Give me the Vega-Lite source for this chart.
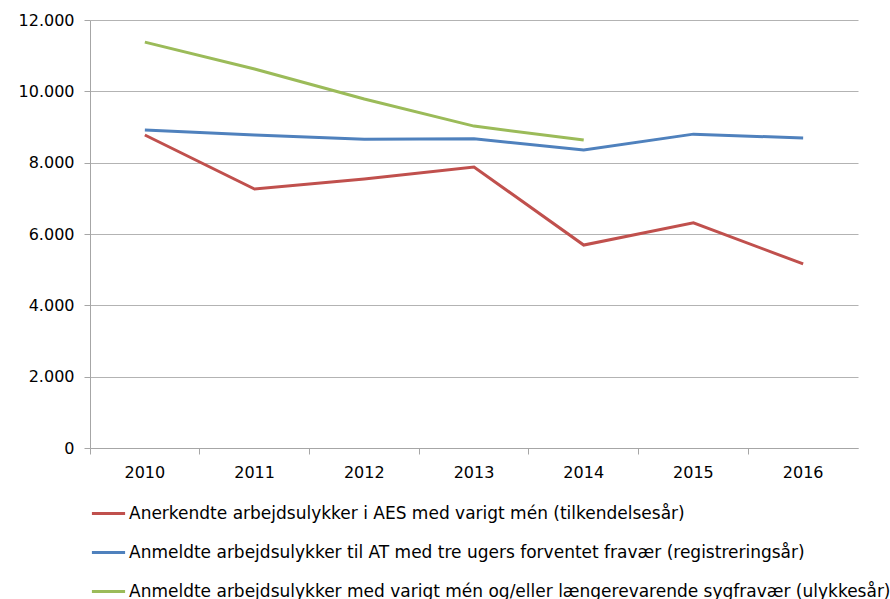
{
  "$schema": "https://vega.github.io/schema/vega-lite/v6.json",
  "width": 768,
  "height": 428,
  "autosize": "none",
  "padding": {"left": 90, "top": 20, "right": 32, "bottom": 151},
  "background": "white",
  "config": {
    "locale": {"number": {"decimal": ",", "thousands": ".", "grouping": [3], "currency": ["", " kr."]}},
    "view": {"stroke": null},
    "font": "DejaVu Sans"
  },
  "data": {
    "values": [
      {"year": "2010", "series": "Anerkendte arbejdsulykker i AES med varigt mén (tilkendelsesår)", "value": 8775},
      {"year": "2011", "series": "Anerkendte arbejdsulykker i AES med varigt mén (tilkendelsesår)", "value": 7260},
      {"year": "2012", "series": "Anerkendte arbejdsulykker i AES med varigt mén (tilkendelsesår)", "value": 7540},
      {"year": "2013", "series": "Anerkendte arbejdsulykker i AES med varigt mén (tilkendelsesår)", "value": 7880},
      {"year": "2014", "series": "Anerkendte arbejdsulykker i AES med varigt mén (tilkendelsesår)", "value": 5690},
      {"year": "2015", "series": "Anerkendte arbejdsulykker i AES med varigt mén (tilkendelsesår)", "value": 6315},
      {"year": "2016", "series": "Anerkendte arbejdsulykker i AES med varigt mén (tilkendelsesår)", "value": 5160},
      {"year": "2010", "series": "Anmeldte arbejdsulykker til AT med tre ugers forventet fravær (registreringsår)", "value": 8915},
      {"year": "2011", "series": "Anmeldte arbejdsulykker til AT med tre ugers forventet fravær (registreringsår)", "value": 8775},
      {"year": "2012", "series": "Anmeldte arbejdsulykker til AT med tre ugers forventet fravær (registreringsår)", "value": 8660},
      {"year": "2013", "series": "Anmeldte arbejdsulykker til AT med tre ugers forventet fravær (registreringsår)", "value": 8670},
      {"year": "2014", "series": "Anmeldte arbejdsulykker til AT med tre ugers forventet fravær (registreringsår)", "value": 8355},
      {"year": "2015", "series": "Anmeldte arbejdsulykker til AT med tre ugers forventet fravær (registreringsår)", "value": 8800},
      {"year": "2016", "series": "Anmeldte arbejdsulykker til AT med tre ugers forventet fravær (registreringsår)", "value": 8690},
      {"year": "2010", "series": "Anmeldte arbejdsulykker med varigt mén og/eller længerevarende sygfravær (ulykkesår)", "value": 11380},
      {"year": "2011", "series": "Anmeldte arbejdsulykker med varigt mén og/eller længerevarende sygfravær (ulykkesår)", "value": 10625},
      {"year": "2012", "series": "Anmeldte arbejdsulykker med varigt mén og/eller længerevarende sygfravær (ulykkesår)", "value": 9785},
      {"year": "2013", "series": "Anmeldte arbejdsulykker med varigt mén og/eller længerevarende sygfravær (ulykkesår)", "value": 9025},
      {"year": "2014", "series": "Anmeldte arbejdsulykker med varigt mén og/eller længerevarende sygfravær (ulykkesår)", "value": 8635}
    ]
  },
  "mark": {"type": "line", "strokeWidth": 3},
  "encoding": {
    "x": {
      "field": "year", "type": "ordinal", "title": null,
      "scale": {"type": "band", "paddingInner": 0, "paddingOuter": 0},
      "axis": {
        "labelAngle": 0, "labelFontSize": 16, "labelColor": "#000000", "labelPadding": 10,
        "domainColor": "#a6a6a6", "tickColor": "#a6a6a6", "tickSize": 6, "bandPosition": 0,
        "grid": false
      }
    },
    "y": {
      "field": "value", "type": "quantitative", "title": null,
      "scale": {"domain": [0, 12000], "nice": false},
      "axis": {
        "values": [0, 2000, 4000, 6000, 8000, 10000, 12000],
        "format": ",.0f", "labelFontSize": 16, "labelColor": "#000000", "labelPadding": 10,
        "domainColor": "#a6a6a6", "tickColor": "#a6a6a6", "tickSize": 6,
        "gridColor": "#b3b3b3", "gridWidth": 1
      }
    },
    "color": {
      "field": "series", "type": "nominal", "title": null,
      "scale": {
        "domain": [
          "Anerkendte arbejdsulykker i AES med varigt mén (tilkendelsesår)",
          "Anmeldte arbejdsulykker til AT med tre ugers forventet fravær (registreringsår)",
          "Anmeldte arbejdsulykker med varigt mén og/eller længerevarende sygfravær (ulykkesår)"
        ],
        "range": ["#C0504D", "#4F81BD", "#9BBB59"]
      },
      "legend": {
        "orient": "none", "legendX": 0, "legendY": 475, "direction": "vertical",
        "symbolType": "stroke", "symbolStrokeWidth": 3, "symbolSize": 1100,
        "labelFontSize": 17, "labelColor": "#000000", "labelLimit": 0, "labelOffset": 2,
        "rowPadding": 12
      }
    }
  }
}
